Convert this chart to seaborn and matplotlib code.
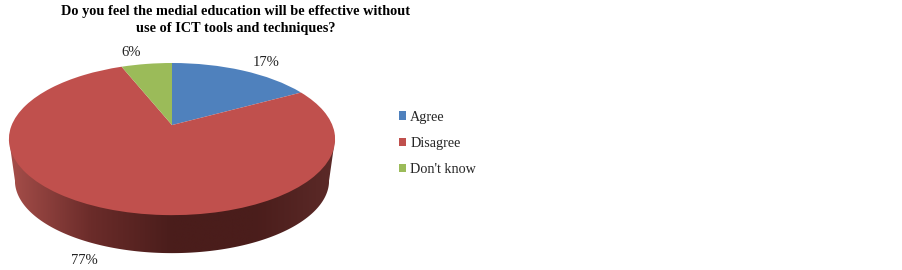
import numpy as np
import seaborn as sns
import matplotlib
matplotlib.use('Agg')
import matplotlib.pyplot as plt
from matplotlib.patches import Polygon
from matplotlib.transforms import Transform

labels = ['Agree', 'Disagree', "Don't know"]
values = [17, 77, 6]
pct_labels = ['17%', '77%', '6%']
colors = ['#4F81BD', '#C0504D', '#9BBB59']
title = 'Do you feel the medial education will be effective without\nuse of ICT tools and techniques?'

sns.set_theme(style='white')
plt.rcParams['font.family'] = ['Liberation Serif', 'DejaVu Serif']


# unit circle -> tilted disc in pixel coords, the apex sits above the ellipse centre
class Tilt(Transform):
    input_dims = 2
    output_dims = 2
    has_inverse = False

    def __init__(self, cx=172, rx=163, top=63, bottom=215):
        super().__init__()
        self.cx, self.rx, self.top, self.bottom = cx, rx, top, bottom

    def transform_non_affine(self, pts):
        pts = np.asarray(pts, dtype=float)
        x, y = pts[:, 0], pts[:, 1]
        d = 5.43 + y
        px = self.cx + self.rx * x * 5.34 / d
        py = self.top + (self.bottom - self.top) * 2.217 * (1 - y) / d
        return np.column_stack([px, py])


fig = plt.figure(figsize=(9.03, 2.7), dpi=100, facecolor='white')
ax = fig.add_axes([0, 0, 1, 1])

wedges, _ = ax.pie(values, colors=colors, startangle=90, counterclock=False, frame=True)
tilt = Tilt()
for w in wedges:
    w.set_transform(tilt + ax.transData)
    w.set_zorder(3)
    w.set_linewidth(0)

ax.set_aspect('auto')
ax.axis('off')

# side of the disc, shaded left to right
t = np.linspace(0, 2 * np.pi, 721)
circle = np.column_stack([np.cos(t), np.sin(t)])
low = Tilt(cx=172, rx=157, top=108, bottom=253).transform(circle)
low = low[low[:, 1] >= 178]
low = low[np.argsort(low[:, 0])]
outline = np.vstack([[[9, 139]], low, [[335, 139]]])
side = Polygon(outline, closed=True, transform=ax.transData, facecolor='none', edgecolor='none')
ax.add_patch(side)
cmap = sns.blend_palette(['#A64E4A', '#6B2C2A', '#4A1D1B', '#4A1D1B', '#5C2A28'], as_cmap=True)
grad = ax.imshow(np.linspace(0, 1, 256)[None, :], cmap=cmap, extent=(9, 335, 260, 130),
                 aspect='auto', zorder=2)
grad.set_clip_path(side)
ax.set_xlim(0, 903)
ax.set_ylim(270, 0)

ax.text(236, 20, title, ha='center', va='center', fontsize=10.25, fontweight='bold',
        color='black', linespacing=1.48)

ax.text(266, 62, pct_labels[0], ha='center', va='center', fontsize=10.5, color='#222222')
ax.text(84, 261, pct_labels[1], ha='center', va='center', fontsize=10.5, color='#222222')
ax.text(131, 52, pct_labels[2], ha='center', va='center', fontsize=10.5, color='#222222')

ax.legend(wedges, labels, loc='center left', bbox_to_anchor=(399 / 903, 1 - 143.5 / 270),
          bbox_transform=fig.transFigure, frameon=False, fontsize=10.2, handlelength=0.5,
          handleheight=0.5, handletextpad=0.3, labelspacing=0.95, borderpad=0, borderaxespad=0)

fig.savefig('out.png', dpi=100, facecolor='white')
